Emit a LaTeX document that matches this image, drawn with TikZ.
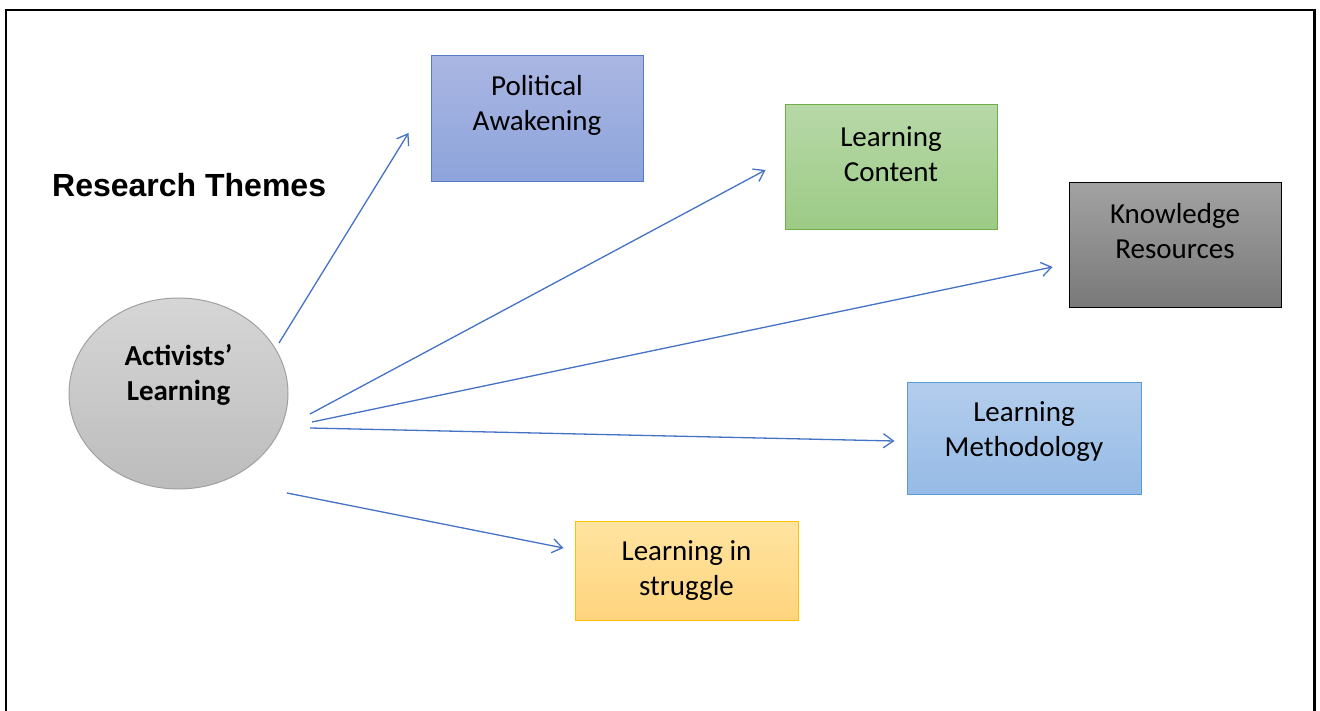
\documentclass[tikz,border=0pt]{standalone}
\usepackage{fontspec}
\setmainfont{Carlito}
\newfontfamily\headfont{Liberation Sans}
\usetikzlibrary{arrows.meta,shapes.geometric}

\definecolor{paTop}{RGB}{170,182,226}
\definecolor{paBot}{RGB}{141,164,219}
\definecolor{paLine}{RGB}{84,122,200}
\definecolor{lcTop}{RGB}{183,216,167}
\definecolor{lcBot}{RGB}{156,203,134}
\definecolor{lcLine}{RGB}{112,173,71}
\definecolor{krTop}{RGB}{162,162,162}
\definecolor{krBot}{RGB}{121,121,121}
\definecolor{lmTop}{RGB}{179,205,236}
\definecolor{lmBot}{RGB}{150,187,230}
\definecolor{lmLine}{RGB}{91,155,213}
\definecolor{lsTop}{RGB}{255,228,160}
\definecolor{lsBot}{RGB}{255,212,126}
\definecolor{lsLine}{RGB}{255,192,0}
\definecolor{elTop}{RGB}{214,214,214}
\definecolor{elBot}{RGB}{188,188,188}
\definecolor{elLine}{RGB}{160,160,160}
\definecolor{linkBlue}{RGB}{68,114,196}

\begin{document}
\begin{tikzpicture}[x=1pt,y=-1pt,
  themebox/.style={draw, line width=1pt, inner sep=0pt, rectangle},
  boxtext/.style={align=center, inner sep=0pt, font=\fontsize{29}{35}\selectfont},
  link/.style={draw=linkBlue, line width=1.3pt,
    -{Straight Barb[length=10pt,width=14pt]}}
]
\useasboundingbox (0,0) rectangle (1320,711);

% open frame
\draw[line width=2.2pt] (6,711) -- (6,10) -- (1314.5,10) -- (1314.5,711);

% heading
\node[anchor=west, inner sep=0pt, font=\headfont\bfseries\fontsize{32}{38}\selectfont]
  (title) at (52,185) {Research Themes};

% central theme
\node[ellipse, draw=elLine, line width=1pt, top color=elTop, bottom color=elBot,
  minimum width=219pt, minimum height=191pt, inner sep=0pt] (al) at (178.5,393.5) {};
\node[boxtext, font=\bfseries\fontsize{29}{35}\selectfont] (altext)
  at ([yshift=19pt]al.center) {Activists’\\Learning};

% theme boxes
\node[themebox, draw=paLine, top color=paTop, bottom color=paBot,
  minimum width=212pt, minimum height=126pt] (pa) at (537,119) {};
\node[boxtext] (patext) at ([yshift=-49.5pt]pa.north) {Political\\Awakening};

\node[themebox, draw=lcLine, top color=lcTop, bottom color=lcBot,
  minimum width=212pt, minimum height=125pt] (lc) at (891,167.5) {};
\node[boxtext] (lctext) at ([yshift=-50pt]lc.north) {Learning\\Content};

\node[themebox, draw=black, top color=krTop, bottom color=krBot,
  minimum width=212pt, minimum height=125pt] (kr) at (1175,245.5) {};
\node[boxtext] (krtext) at ([yshift=-49pt]kr.north) {Knowledge\\Resources};

\node[themebox, draw=lmLine, top color=lmTop, bottom color=lmBot,
  minimum width=234pt, minimum height=112pt] (lm) at (1024,438) {};
\node[boxtext] (lmtext) at ([yshift=-50pt]lm.north) {Learning\\Methodology};

\node[themebox, draw=lsLine, top color=lsTop, bottom color=lsBot,
  minimum width=223pt, minimum height=99pt] (ls) at (686.5,570.5) {};
\node[boxtext] (lstext) at ([yshift=-50pt]ls.north) {Learning in\\struggle};

% connector ends
\coordinate (s1) at ([xshift=100.5pt,yshift=50.5pt]al.center);
\coordinate (s2) at ([xshift=131.5pt,yshift=-20.5pt]al.center);
\coordinate (s3) at ([xshift=133.5pt,yshift=-28.5pt]al.center);
\coordinate (s4) at ([xshift=131.5pt,yshift=-34.5pt]al.center);
\coordinate (s5) at ([xshift=108.5pt,yshift=-99.5pt]al.center);

\coordinate (t1) at ([xshift=-22pt,yshift=-14pt]pa.west);
\coordinate (t2) at ([xshift=-19pt,yshift=-2.5pt]lc.west);
\coordinate (t3) at ([xshift=-16pt,yshift=-21.5pt]kr.west);
\coordinate (t4) at ([xshift=-12pt,yshift=-3pt]lm.west);
\coordinate (t5) at ([xshift=-11pt,yshift=22.5pt]ls.west);

% connectors
\draw[link] (s1) -- (t1);
\draw[link] (s2) -- (t2);
\draw[link] (s3) -- (t3);
\draw[link] (s4) -- (t4);
\draw[link] (s5) -- (t5);
\end{tikzpicture}
\end{document}
